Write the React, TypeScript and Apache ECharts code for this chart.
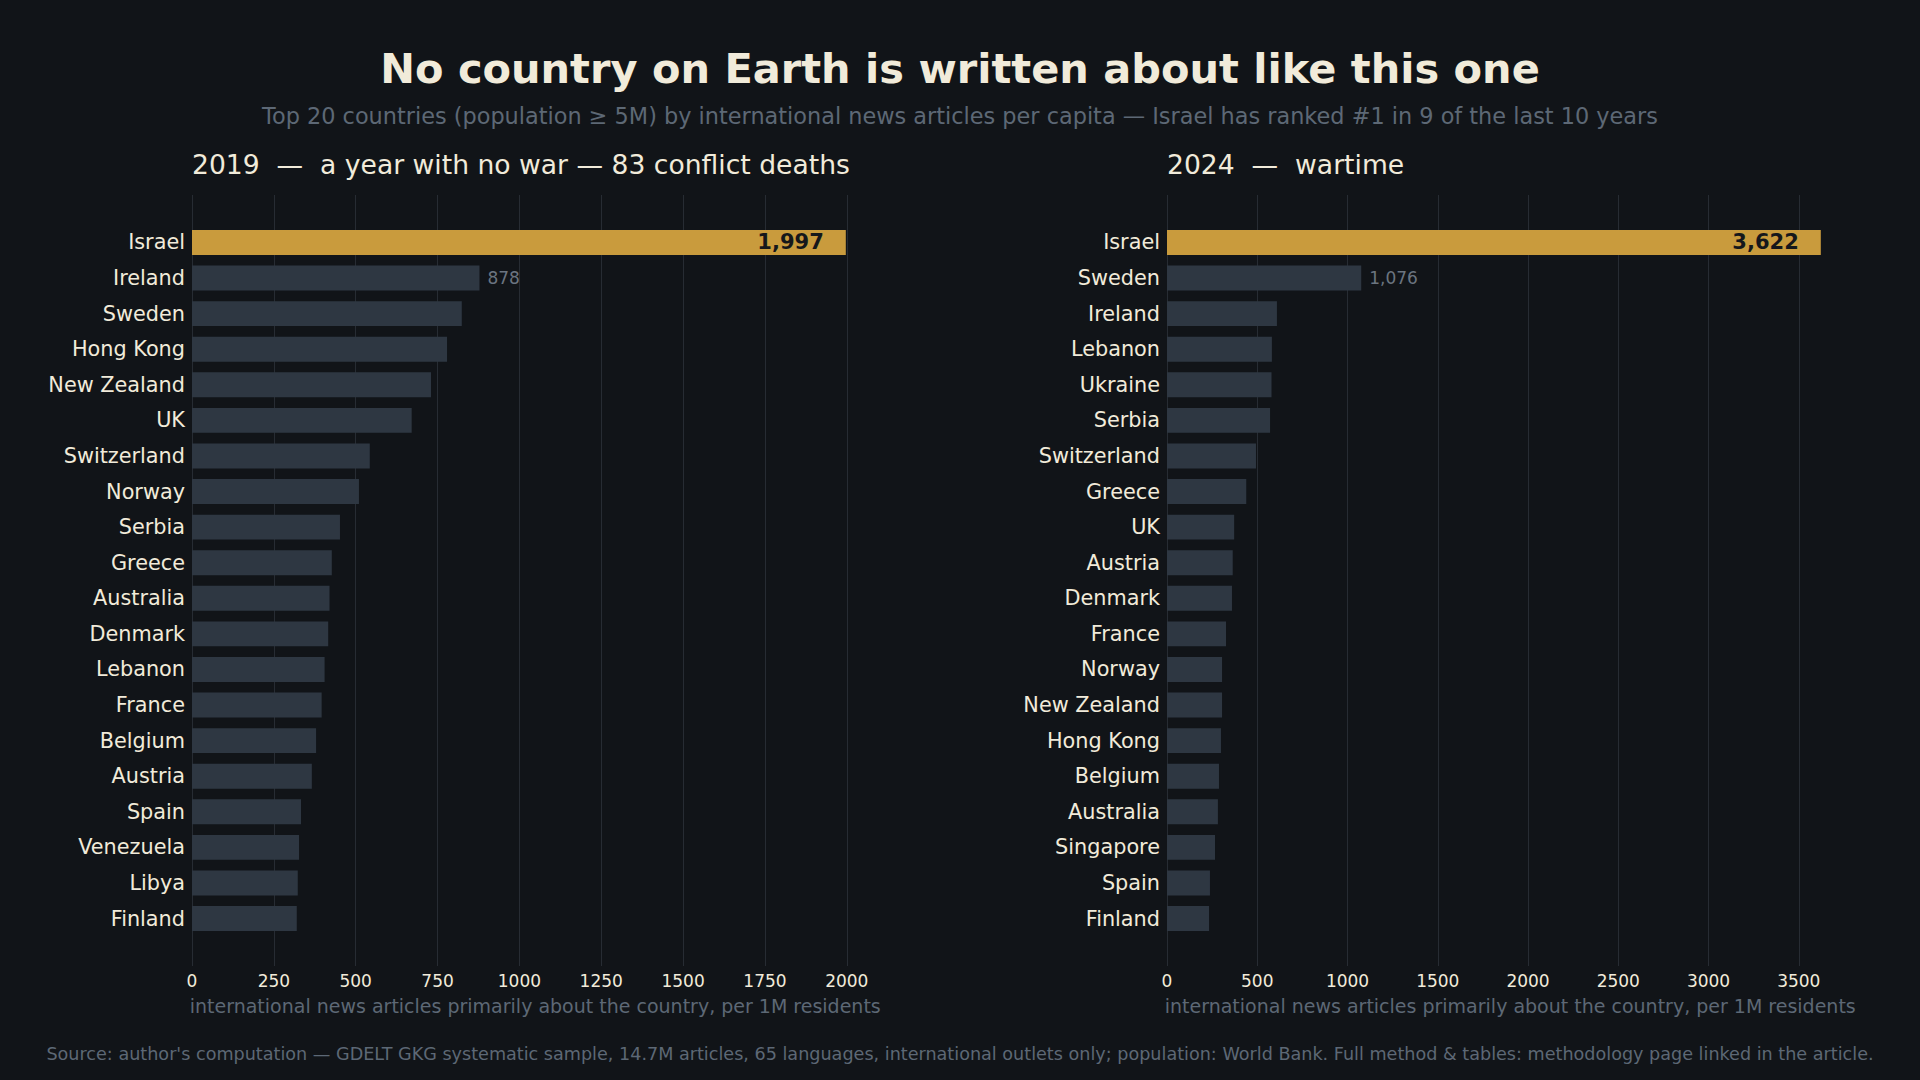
import { useEffect, useRef } from 'react';
import * as echarts from 'echarts';

// data
const countries2019 = [
  'Israel', 'Ireland', 'Sweden', 'Hong Kong', 'New Zealand', 'UK', 'Switzerland', 'Norway', 'Serbia', 'Greece',
  'Australia', 'Denmark', 'Lebanon', 'France', 'Belgium', 'Austria', 'Spain', 'Venezuela', 'Libya', 'Finland',
];
const values2019 = [1997, 878, 824, 779, 730, 671, 543, 510, 452, 427, 420, 416, 405, 396, 379, 366, 333, 327, 323, 320];

const countries2024 = [
  'Israel', 'Sweden', 'Ireland', 'Lebanon', 'Ukraine', 'Serbia', 'Switzerland', 'Greece', 'UK', 'Austria',
  'Denmark', 'France', 'Norway', 'New Zealand', 'Hong Kong', 'Belgium', 'Australia', 'Singapore', 'Spain', 'Finland',
];
const values2024 = [3622, 1076, 609, 581, 579, 571, 493, 439, 372, 364, 360, 327, 305, 305, 299, 288, 282, 266, 238, 233];

const ticks2019 = [0, 250, 500, 750, 1000, 1250, 1500, 1750, 2000];
const ticks2024 = [0, 500, 1000, 1500, 2000, 2500, 3000, 3500];

const TITLE = 'No country on Earth is written about like this one';
const SUBTITLE =
  'Top 20 countries (population \u2265 5M) by international news articles per capita \u2014 Israel has ranked #1 in 9 of the last 10 years';
const PANEL_2019 = '2019  \u2014  a year with no war \u2014 83 conflict deaths';
const PANEL_2024 = '2024  \u2014  wartime';
const AXIS_NAME = 'international news articles primarily about the country, per 1M residents';
const SOURCE =
  "Source: author's computation \u2014 GDELT GKG systematic sample, 14.7M articles, 65 languages, international outlets only; population: World Bank. Full method & tables: methodology page linked in the article.";

const FONT = '"DejaVu Sans", "Noto Sans", sans-serif';
const BG = '#111418';
const CREAM = '#f1ebda';
const MUTED = '#5d6875';
const BAR = '#2e3742';
const GOLD = '#c99b3d';
const GRIDLINE = '#272c33';

// layout (px) — mimics two matplotlib axes, xlim = max * 1.05
const AX_TOP = 195;
const AX_H = 771;
const AX_W = 686.5;
const Y_MARGIN = 1.335; // category units between axes edge and first bar centre
const PANEL_LEFT = [192, 1167];

function panel(idx: number, left: number, cats: string[], vals: number[], ticks: number[]) {
  const xMax = Math.max(...vals) * 1.05;
  const unit = AX_H / (cats.length - 1 + 2 * Y_MARGIN);
  const inset = (Y_MARGIN - 0.5) * unit;
  const lastTick = ticks[ticks.length - 1];
  const step = ticks[1] - ticks[0];

  const grids = [
    { left, top: AX_TOP + inset, width: AX_W, height: AX_H - 2 * inset },
    { left, top: AX_TOP, width: (AX_W * lastTick) / xMax, height: AX_H },
  ];

  const xAxes = [
    {
      gridIndex: idx * 2,
      type: 'value',
      min: 0,
      max: xMax,
      axisLine: { show: false },
      axisTick: { show: false },
      axisLabel: { show: false },
      splitLine: { show: false },
      name: AXIS_NAME,
      nameLocation: 'middle',
      nameGap: 60,
      nameTextStyle: { color: MUTED, fontSize: 19, fontFamily: FONT },
    },
    {
      gridIndex: idx * 2 + 1,
      type: 'value',
      min: ticks[0],
      max: lastTick,
      interval: step,
      axisLine: { show: false },
      axisTick: { show: false },
      axisLabel: {
        color: CREAM,
        fontSize: 17,
        fontFamily: FONT,
        margin: 6,
        formatter: (v: number) => String(v),
      },
      splitLine: { show: true, lineStyle: { color: GRIDLINE, width: 1 } },
    },
  ];

  const yAxes = [
    {
      gridIndex: idx * 2,
      type: 'category',
      data: cats,
      inverse: true,
      axisLine: { show: false },
      axisTick: { show: false },
      splitLine: { show: false },
      axisLabel: { color: CREAM, fontSize: 20.8, fontFamily: FONT, margin: 7 },
    },
    { gridIndex: idx * 2 + 1, type: 'value', show: false },
  ];

  const data = vals.map((v, i) => {
    if (i === 0) {
      return {
        value: v,
        itemStyle: { color: GOLD },
        label: {
          show: true,
          position: 'insideRight',
          distance: 22,
          formatter: v.toLocaleString('en-US'),
          color: '#15171b',
          fontWeight: 'bold',
          fontSize: 21,
          fontFamily: FONT,
        },
      };
    }
    if (i === 1) {
      return {
        value: v,
        label: {
          show: true,
          position: 'right',
          distance: 8,
          formatter: v.toLocaleString('en-US'),
          color: '#6b7480',
          fontSize: 17,
          fontFamily: FONT,
        },
      };
    }
    return v;
  });

  const series = [
    {
      type: 'bar',
      xAxisIndex: idx * 2,
      yAxisIndex: idx * 2,
      data,
      barWidth: '70%',
      itemStyle: { color: BAR },
      z: 3,
    },
  ];

  return { grids, xAxes, yAxes, series };
}

export default function App() {
  const ref = useRef<HTMLDivElement>(null);

  useEffect(() => {
    document.body.style.margin = '0';
    document.body.style.background = BG;
    const chart = echarts.init(ref.current!, null, { renderer: 'svg' });

    const a = panel(0, PANEL_LEFT[0], countries2019, values2019, ticks2019);
    const b = panel(1, PANEL_LEFT[1], countries2024, values2024, ticks2024);

    chart.setOption({
      animation: false,
      backgroundColor: BG,
      textStyle: { fontFamily: FONT },
      title: [
        {
          text: TITLE,
          left: 'center',
          top: 47,
          padding: 0,
          textStyle: { color: CREAM, fontSize: 41.5, fontWeight: 'bold', fontFamily: FONT },
        },
        {
          text: SUBTITLE,
          left: 'center',
          top: 105,
          padding: 0,
          textStyle: { color: MUTED, fontSize: 22.4, fontWeight: 'normal', fontFamily: FONT },
        },
        {
          text: PANEL_2019,
          left: PANEL_LEFT[0],
          top: 151,
          padding: 0,
          textStyle: { color: CREAM, fontSize: 26.6, fontWeight: 'normal', fontFamily: FONT },
        },
        {
          text: PANEL_2024,
          left: PANEL_LEFT[1],
          top: 151,
          padding: 0,
          textStyle: { color: CREAM, fontSize: 26.6, fontWeight: 'normal', fontFamily: FONT },
        },
        {
          text: SOURCE,
          left: 'center',
          top: 1045,
          padding: 0,
          textStyle: { color: MUTED, fontSize: 17.6, fontWeight: 'normal', fontFamily: FONT },
        },
      ],
      grid: [...a.grids, ...b.grids],
      xAxis: [...a.xAxes, ...b.xAxes],
      yAxis: [...a.yAxes, ...b.yAxes],
      series: [...a.series, ...b.series],
    } as echarts.EChartsOption);

    return () => {
      chart.dispose();
    };
  }, []);

  return <div ref={ref} style={{ width: 1920, height: 1080, background: BG }} />;
}
